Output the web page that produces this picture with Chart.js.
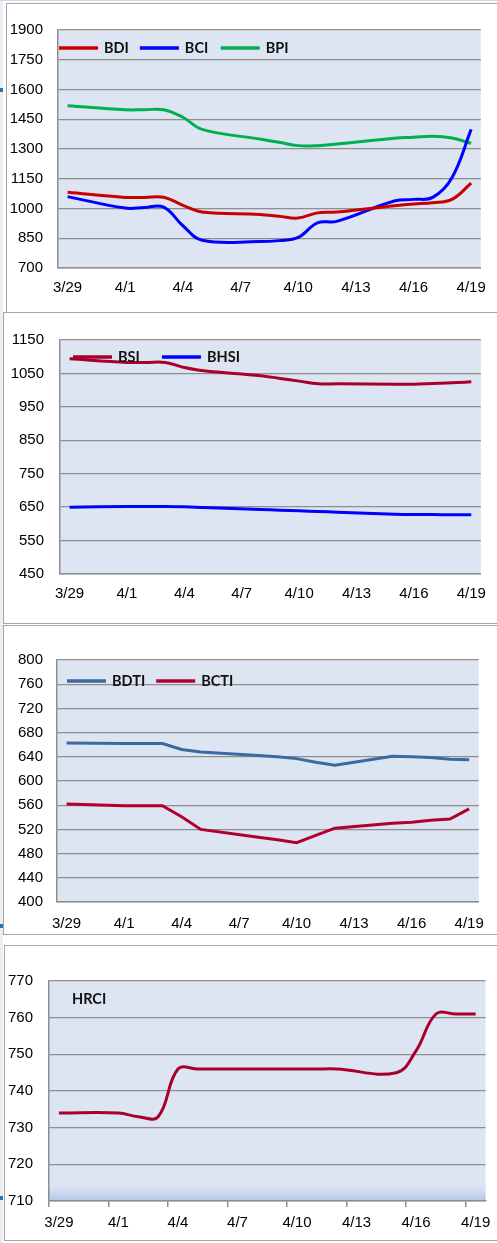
<!DOCTYPE html>
<html>
<head>
<meta charset="utf-8">
<script src="https://cdn.jsdelivr.net/npm/chart.js@4.4.0/dist/chart.umd.min.js"></script>
<style>
  html, body { margin: 0; padding: 0; background: #fff; }
  body { width: 497px; height: 1243px; position: relative; overflow: hidden; }
  .frame { position: absolute; border: 1px solid #a6a6a6; box-sizing: border-box; background: #fff; }
  .strip { position: absolute; left: 0; width: 3px; background: #eceef4; }
  .mark { position: absolute; left: 0; width: 3px; height: 4px; background: #2a73b8; }
  canvas { position: absolute; left: 0; }
</style>
</head>
<body>
<div class="strip" style="top:0;height:1243px;"></div>
<div style="position:absolute;left:0;top:0;width:497px;height:1px;background:#c9dcec;"></div>
<div class="frame" style="left:6px;top:3px;width:500px;height:310px;"></div>
<div class="frame" style="left:3px;top:312px;width:500px;height:312px;"></div>
<div class="frame" style="left:3px;top:625px;width:500px;height:310px;"></div>
<div class="frame" style="left:4px;top:945px;width:500px;height:296px;"></div>
<div class="mark" style="top:88px;"></div>
<div class="mark" style="top:924px;"></div>
<div class="mark" style="top:1196px;"></div>

<canvas id="c1" width="497" height="312" style="top:0px;"></canvas>
<canvas id="c2" width="497" height="312" style="top:312px;"></canvas>
<canvas id="c3" width="497" height="311" style="top:624px;"></canvas>
<canvas id="c4" width="497" height="308" style="top:935px;"></canvas>

<script>
// Trading days 3/29 – 4/19 (weekends left empty)
const dates = ['3/29','3/30','3/31','4/1','4/2','4/3','4/4','4/5','4/6','4/7','4/8','4/9',
               '4/10','4/11','4/12','4/13','4/14','4/15','4/16','4/17','4/18','4/19'];

// Dry bulk: BDI / BCI / BPI
const bdi  = [1082,null,null,1056,1056,1057,1016,982,null,null,970,961,952,978,982,null,null,1014,1023,1029,1046,1128];
const bci  = [1060,null,null,1002,1005,1007,913,840,null,null,833,838,854,928,935,null,null,1038,1046,1056,1155,1399];
const bpi  = [1518,null,null,1498,1498,1498,1460,1399,null,null,1350,1334,1317,1317,1325,null,null,1354,1359,1364,1355,1329];

// Supramax / Handysize: BSI / BHSI
const bsi  = [1094,null,null,1083,1083,1083,1068,1058,null,null,1043,1035,1027,1019,1019,null,null,1018,1018,1020,1022,1025];
const bhsi = [650,null,null,652,652,652,651,649,null,null,643,641,639,637,635,null,null,629,628,628,627,627];

// Tankers: BDTI / BCTI
const bdti = [663,null,null,662,662,662,652,648,null,null,642,640,637,631,626,null,null,641,640,639,636,635];
const bcti = [562,null,null,559,559,559,541,520,null,null,507,503,498,510,522,null,null,530,532,535,537,554];

// HRCI
const hrci = [734,null,null,734,733,733,746,746,null,null,746,746,746,746,746,null,null,745,751,761,761,761];

// Y-axis ranges
const axis1 = { min: 700, max: 1900, step: 150 };
const axis2 = { min: 450, max: 1150, step: 100 };
const axis3 = { min: 400, max: 800, step: 40 };
const axis4 = { min: 710, max: 770, step: 10 };

const GRID = '#8e8e8e';
const TICK_FONT = { family: 'Liberation Sans, Arial, sans-serif', size: 15 };

// Filled plot area, with optional blue shading along the bottom edge
const plotBackground = {
  id: 'plotBackground',
  beforeDraw(chart, args, opts) {
    const { ctx, chartArea: a } = chart;
    ctx.save();
    ctx.fillStyle = opts.color || '#dde5f2';
    ctx.fillRect(a.left, a.top, a.right - a.left, a.bottom - a.top);
    if (opts.bottomShade) {
      const h = opts.bottomShade;
      const g = ctx.createLinearGradient(0, a.bottom - h, 0, a.bottom);
      g.addColorStop(0, 'rgba(186,204,234,0)');
      g.addColorStop(1, 'rgba(176,198,232,1)');
      ctx.fillStyle = g;
      ctx.fillRect(a.left, a.bottom - h, a.right - a.left, h);
    }
    ctx.restore();
  }
};

// Legend drawn inside the plot area, items of equal width
const insideLegend = {
  id: 'insideLegend',
  afterDatasetsDraw(chart, args, opts) {
    const ctx = chart.ctx;
    ctx.save();
    ctx.font = 'bold 14.5px Lato, "Open Sans", sans-serif';
    ctx.textBaseline = 'middle';
    ctx.fillStyle = '#111';
    const sets = chart.data.datasets;
    const maxW = Math.max(...sets.map(d => ctx.measureText(d.label).width));
    let x = opts.x;
    sets.forEach(d => {
      if (opts.showLine === false) {
        ctx.fillText(d.label, x, opts.y);
        x += maxW + 12;
        return;
      }
      ctx.strokeStyle = d.borderColor;
      ctx.lineWidth = 3.5;
      ctx.beginPath();
      ctx.moveTo(x, opts.y);
      ctx.lineTo(x + 39, opts.y);
      ctx.stroke();
      ctx.fillText(d.label, x + 45, opts.y + 0.5);
      x += 45 + maxW + 11;
    });
    ctx.restore();
  }
};

function series(label, data, color, tension) {
  return {
    label, data,
    borderColor: color,
    backgroundColor: color,
    borderWidth: 3,
    pointRadius: 0,
    pointHoverRadius: 0,
    tension,
    spanGaps: true,
    fill: false
  };
}

function makeChart(id, datasets, axis, cfg) {
  const xGrid = cfg.xTicks
    ? {
        display: true, drawOnChartArea: false, drawTicks: true, tickLength: 6, offset: true,
        lineWidth: 1.5,
        color: c => (c.index % 3 === 0 ? GRID : 'transparent'),
        tickColor: c => (c.index % 3 === 0 ? GRID : 'transparent')
      }
    : { display: false, drawTicks: false };

  return new Chart(document.getElementById(id), {
    type: 'line',
    data: { labels: dates, datasets },
    plugins: [plotBackground, insideLegend],
    options: {
      responsive: false,
      animation: false,
      events: [],
      layout: { padding: cfg.padding },
      plugins: {
        legend: { display: false },
        tooltip: { enabled: false },
        plotBackground: { color: '#dde5f2', bottomShade: cfg.shade || 0 },
        insideLegend: cfg.legend
      },
      scales: {
        x: {
          type: 'category',
          offset: true,
          grid: xGrid,
          border: { display: true, color: GRID, width: 1.5 },
          ticks: {
            autoSkip: false,
            maxRotation: 0,
            padding: cfg.xPad,
            color: '#000',
            font: TICK_FONT,
            callback: function (v, i) { return i % 3 === 0 ? this.getLabelForValue(v) : ''; }
          },
          afterFit: s => { s.height = 30; }
        },
        y: {
          min: axis.min,
          max: axis.max,
          grid: { color: GRID, lineWidth: 1.3, drawTicks: false },
          border: { display: true, color: GRID, width: 1.5 },
          ticks: {
            stepSize: axis.step,
            padding: cfg.yPad,
            color: '#000',
            font: TICK_FONT,
            callback: v => String(v)
          },
          afterFit: s => { s.width = cfg.yWidth; }
        }
      }
    }
  });
}

makeChart('c1', [
  series('BDI', bdi, '#c80000', 0.4),
  series('BCI', bci, '#0000ff', 0.4),
  series('BPI', bpi, '#00b050', 0.4)
], axis1, {
  padding: { left: 0, right: 10, top: 30, bottom: 14 },
  yWidth: 58, yPad: 15, xPad: 11,
  legend: { x: 59, y: 48 }
});

makeChart('c2', [
  series('BSI', bsi, '#a8002a', 0.4),
  series('BHSI', bhsi, '#0000ff', 0.4)
], axis2, {
  padding: { left: 0, right: 5, top: 28, bottom: 20 },
  yWidth: 60, yPad: 16, xPad: 11,
  legend: { x: 73, y: 45 }
});

makeChart('c3', [
  series('BDTI', bdti, '#3b69a1', 0),
  series('BCTI', bcti, '#b0002c', 0)
], axis3, {
  padding: { left: 0, right: 12, top: 36, bottom: 3 },
  yWidth: 57, yPad: 14, xPad: 13,
  legend: { x: 67, y: 57 }
});

makeChart('c4', [
  series('HRCI', hrci, '#a8002a', 0.4)
], axis4, {
  padding: { left: 0, right: 11, top: 46, bottom: 12 },
  yWidth: 49, yPad: 16, xPad: 6.5,
  xTicks: true, shade: 15,
  legend: { x: 72, y: 64, showLine: false }
});
</script>
</body>
</html>
